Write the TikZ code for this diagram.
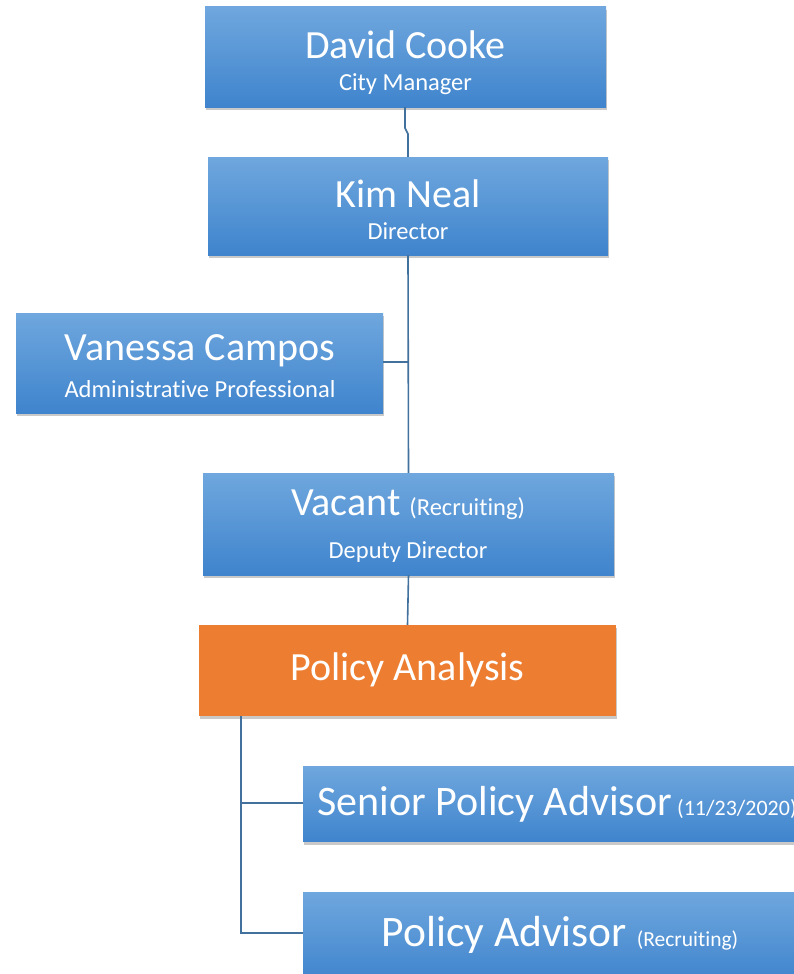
\documentclass[tikz,border=0pt]{standalone}
\usepackage{fontspec}
\setmainfont{Carlito}[Ligatures={NoCommon}]
\usetikzlibrary{shadows}
\definecolor{btop}{HTML}{6FA7DE}
\definecolor{bbot}{HTML}{3F84CD}
\definecolor{orangebox}{HTML}{ED7D31}
\definecolor{lineblue}{HTML}{41719C}
\newcommand{\smallfs}{\fontsize{24.5}{28}\selectfont}
\tikzset{
  box/.style={rectangle, inner sep=0pt, top color=btop, bottom color=bbot, draw=none,
    drop shadow={shadow xshift=1pt, shadow yshift=-3pt, opacity=0.35, fill=black!60}},
  obox/.style={rectangle, inner sep=0pt, fill=orangebox, draw=none,
    drop shadow={shadow xshift=1pt, shadow yshift=-3pt, opacity=0.35, fill=black!60}},
  big/.style={text=white, inner sep=0pt, font=\fontsize{40}{44}\selectfont},
  small/.style={text=white, inner sep=0pt, font=\smallfs},
  conn/.style={draw=lineblue, line width=1.6pt},
}
\begin{document}
\begin{tikzpicture}[x=1pt,y=-1pt]
\useasboundingbox[fill=white] (0,0) rectangle (794,974);
% boxes
\node[box, minimum width=401pt, minimum height=100pt] (dc) at (405.5,57) {};
\node[box, minimum width=400pt, minimum height=98pt] (kn) at (408,206) {};
\node[box, minimum width=367pt, minimum height=100pt] (vc) at (199.5,363) {};
\node[box, minimum width=411pt, minimum height=102pt] (va) at (408.5,524) {};
\node[obox, minimum width=417pt, minimum height=91pt] (pa) at (407.5,670.5) {};
\node[box, minimum width=512pt, minimum height=75pt] (sp) at (559,804) {};
\node[box, minimum width=512pt, minimum height=90pt] (pv) at (559,937) {};
% texts
\node[big] (dct) at (405.5,45) {David Cooke};
\node[small] (dcs) at (405.5,84) {City Manager};
\node[big] (knt) at (408,194) {Kim Neal};
\node[small] (kns) at (408,231) {Director};
\node[big] (vct) at (200,351) {Vanessa Campos};
\node[small] (vcs) at (200,389) {Administrative Professional};
\node[big] (vat) at (408,505) {Vacant {\smallfs(Recruiting)}};
\node[small] (vas) at (408,552) {Deputy Director};
\node[big] (pat) at (407.5,670) {Policy Analysis};
\node[big, font=\fontsize{42}{46}\selectfont, anchor=west] (spt) at (317,804) {Senior Policy Advisor\hspace{5pt}{\fontsize{22}{26}\selectfont(11/23/2020)}};
\node[big, font=\fontsize{43.5}{48}\selectfont] (pvt) at (560,935) {Policy Advisor {\fontsize{21.5}{25}\selectfont(Recruiting)}};
% connectors
\coordinate (j1) at (405,128);
\coordinate (j2) at (408,134);
\draw[conn] (dc.south -| j1) -- (j1) -- (j2) -- (kn.north -| j2);
\draw[conn] (kn.south) -- (va.north);
\coordinate (vj) at (408,362);
\draw[conn] (vc.east |- vj) -- (vj);
\draw[conn] (va.south) -- (pa.north);
\coordinate (pb) at (241,716);
\coordinate (s1) at (241,803);
\coordinate (s2) at (241,933);
\draw[conn] (pa.south -| pb) -- (s2) -- (pv.west |- s2);
\draw[conn] (s1) -- (sp.west |- s1);
\end{tikzpicture}
\end{document}
